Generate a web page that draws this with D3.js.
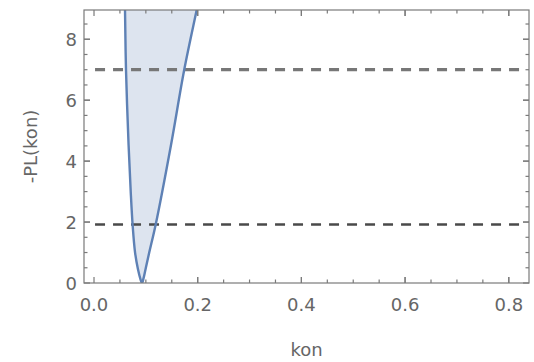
<!DOCTYPE html>
<html>
<head>
<meta charset="utf-8">
<script src="https://cdn.jsdelivr.net/npm/d3@7"></script>
<style>
  body { margin: 0; background: #fff; }
  svg { display: block; }
  text { font-family: "DejaVu Sans", sans-serif; fill: #666; }
</style>
</head>
<body>
<div id="chart"></div>
<script>
// profile likelihood for kon
const konValues = [0.0595, 0.0598, 0.0617, 0.0667, 0.0708, 0.0745, 0.0792, 0.0848, 0.0897, 0.0925,
                   0.0955, 0.1, 0.1065, 0.119, 0.1485, 0.174, 0.198, 0.202];
const plValues  = [9.3, 8.96, 7, 4.53, 3.0, 1.9, 1.0, 0.45, 0.12, 0,
                   0.15, 0.5, 1.0, 1.92, 4.53, 7, 8.96, 9.3];
const thresholds = [7, 1.92];
const xTicks = [0, 0.2, 0.4, 0.6, 0.8];
const yTicks = [0, 2, 4, 6, 8];

const width = 534, height = 362;
const margin = {top: 10, right: 5, bottom: 79, left: 84};

const svg = d3.select('#chart').append('svg')
    .attr('width', width)
    .attr('height', height);

const x = d3.scaleLinear()
    .domain([-0.0193, 0.839])
    .range([margin.left, width - margin.right]);
const y = d3.scaleLinear()
    .domain([0, 8.96])
    .range([height - margin.bottom, margin.top]);

const data = konValues.map((k, i) => ({k: k, v: plValues[i]}));

svg.append('clipPath').attr('id', 'clip')
  .append('rect')
    .attr('x', x.range()[0]).attr('y', y.range()[1])
    .attr('width', x.range()[1] - x.range()[0])
    .attr('height', y.range()[0] - y.range()[1]);

const plot = svg.append('g').attr('clip-path', 'url(#clip)');

// filling between curve and top
plot.append('path')
    .datum(data)
    .attr('fill', '#dde4ef')
    .attr('d', d3.area()
        .x(d => x(d.k))
        .y0(y(9.5))
        .y1(d => y(d.v))
        .curve(d3.curveCatmullRom.alpha(0.5)));

// threshold lines
thresholds.forEach((t, i) => {
  plot.append('line')
      .attr('x1', x(0.002)).attr('x2', x(0.823))
      .attr('y1', y(t)).attr('y2', y(t))
      .attr('stroke', i === 0 ? '#777' : '#4a4a4a')
      .attr('stroke-width', i === 0 ? 3.2 : 2.6)
      .attr('stroke-dasharray', '10,8');
});

plot.append('path')
    .datum(data)
    .attr('fill', 'none')
    .attr('stroke', '#5e81b5')
    .attr('stroke-width', 2.4)
    .attr('d', d3.line()
        .x(d => x(d.k))
        .y(d => y(d.v))
        .curve(d3.curveCatmullRom.alpha(0.5)));

// frame with inward ticks on all sides
const x0 = x.range()[0], x1 = x.range()[1], y0 = y.range()[0], y1 = y.range()[1];
const frame = svg.append('g').attr('stroke', '#7a7a7a').attr('stroke-width', 1.2);
frame.append('rect')
    .attr('x', x0).attr('y', y1)
    .attr('width', x1 - x0).attr('height', y0 - y1)
    .attr('fill', 'none');

const xMinor = d3.range(0.05, 0.84, 0.05);
const yMinor = d3.range(0.5, 8.9, 0.5);

xMinor.concat(xTicks).forEach(t => {
  const len = xTicks.some(m => Math.abs(m - t) < 1e-6) ? 6 : 3.5;
  frame.append('line').attr('x1', x(t)).attr('x2', x(t)).attr('y1', y0).attr('y2', y0 - len);
  frame.append('line').attr('x1', x(t)).attr('x2', x(t)).attr('y1', y1).attr('y2', y1 + len);
});
yMinor.concat(yTicks).forEach(t => {
  const len = yTicks.some(m => Math.abs(m - t) < 1e-6) ? 6 : 3.5;
  frame.append('line').attr('y1', y(t)).attr('y2', y(t)).attr('x1', x0).attr('x2', x0 + len);
  frame.append('line').attr('y1', y(t)).attr('y2', y(t)).attr('x1', x1).attr('x2', x1 - len);
});

// tick labels
svg.selectAll('.xlab').data(xTicks).enter().append('text')
    .attr('x', d => x(d))
    .attr('y', y0 + 28)
    .attr('text-anchor', 'middle')
    .style('font-size', '18px')
    .text(d => d3.format('.1f')(d));

svg.selectAll('.ylab').data(yTicks).enter().append('text')
    .attr('x', x0 - 7)
    .attr('y', d => y(d) + 6.5)
    .attr('text-anchor', 'end')
    .style('font-size', '18px')
    .text(d => d);

svg.append('text')
    .attr('x', (x0 + x1) / 2)
    .attr('y', 356)
    .attr('text-anchor', 'middle')
    .style('font-size', '18px')
    .text('kon');

svg.append('text')
    .attr('transform', `translate(37,${(y0 + y1) / 2}) rotate(-90)`)
    .attr('text-anchor', 'middle')
    .style('font-size', '18px')
    .text('-PL(kon)');
</script>
</body>
</html>
